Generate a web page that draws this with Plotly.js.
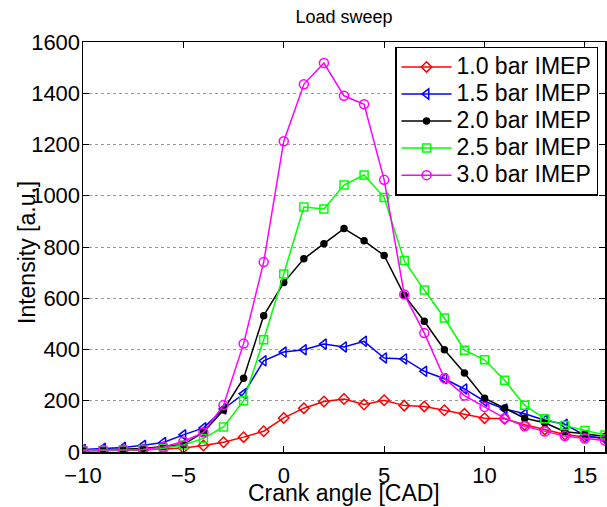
<!DOCTYPE html>
<html>
<head>
<meta charset="utf-8">
<script src="https://cdn.plot.ly/plotly-3.0.1.min.js"></script>
<style>html,body{margin:0;padding:0;background:#fff;}#chart{width:607px;height:507px;}</style>
</head>
<body>
<div id="chart"></div>
<script>
const crankAngle = [-10,-9,-8,-7,-6,-5,-4,-3,-2,-1,0,1,2,3,4,5,6,7,8,9,10,11,12,13,14,15,16];
const seriesNames = ["1.0 bar IMEP","1.5 bar IMEP","2.0 bar IMEP","2.5 bar IMEP","3.0 bar IMEP"];
const imep10 = [4,5,6,8,12,16,25,38,58,81,133,171,197,207,185,202,181,178,163,149,132,130,106,88,68,59,54];
const imep15 = [10,14,18,26,37,67,94,168,227,356,390,399,421,410,432,367,363,315,286,246,198,168,149,124,108,65,52];
const imep20 = [6,8,10,14,21,29,77,164,288,532,661,754,813,872,824,767,612,510,399,308,210,172,132,114,79,71,60];
const imep25 = [5,6,8,10,15,27,53,98,200,438,695,956,948,1042,1081,993,747,632,523,397,360,280,182,130,103,84,66];
const imep30 = [8,8,9,10,20,41,76,183,423,741,1213,1435,1518,1390,1357,1062,615,464,288,220,176,132,100,80,62,53,45];
const xTitle = "Crank angle [CAD]";
const yTitle = "Intensity [a.u.]";

const colors = ["#ff0000","#0000ff","#000000","#00ff00","#ff00ff"];
const symbols = ["diamond-open","triangle-left-open","circle","square-open","circle-open"];
const sizes = [8,9,6,8,9];
const allSeries = [imep10, imep15, imep20, imep25, imep30];

const traces = allSeries.map((ys, i) => ({
  x: crankAngle, y: ys, type: "scatter", mode: "lines+markers",
  name: '<span style="font-size:23px">' + seriesNames[i] + '</span>',
  line: {color: colors[i], width: 1.5},
  marker: {symbol: symbols[i], size: sizes[i], color: colors[i], line: {color: colors[i], width: 1.5}}
}));

const FONT = "Liberation Sans, Arial, Helvetica, sans-serif";
const axisCommon = {
  showline: true, linecolor: "#000", linewidth: 1.5, mirror: "ticks",
  ticks: "inside", ticklen: 6, tickcolor: "#000", tickwidth: 1,
  zeroline: false,
  tickfont: {family: FONT, size: 22, color: "#000"}
};

const layout = {
  width: 607, height: 507,
  margin: {l: 83, r: 2, t: 42, b: 55},
  paper_bgcolor: "#fff", plot_bgcolor: "#fff",
  font: {family: FONT, color: "#000"},
  title: {text: "Load sweep", font: {size: 18, color: "#000"}, x: 0.5667, xanchor: "center", y: 0.968, yanchor: "middle"},
  xaxis: Object.assign({}, axisCommon, {
    range: [-10, 16], tickvals: [-10,-5,0,5,10,15], showgrid: false, ticklabelstandoff: 3
  }),
  yaxis: Object.assign({}, axisCommon, {
    range: [0, 1600], tickvals: [0,200,400,600,800,1000,1200,1400,1600],
    showgrid: true, gridcolor: "#999", griddash: "dot", gridwidth: 1, ticklabelstandoff: -3
  }),
  annotations: [
    {text: xTitle, xref: "paper", yref: "paper", x: 0.5, y: -0.1, xanchor: "center", yanchor: "middle",
     showarrow: false, font: {family: FONT, size: 23, color: "#000"}},
    {text: yTitle, xref: "paper", yref: "paper", x: -0.1073, y: 0.4878, xanchor: "center", yanchor: "middle",
     textangle: -90, showarrow: false, font: {family: FONT, size: 23, color: "#000"}}
  ],
  legend: {
    x: 0.9866, xanchor: "right", y: 0.988, yanchor: "top",
    bgcolor: "#fff", bordercolor: "#000", borderwidth: 1.5, itemwidth: 50,
    font: {family: FONT, size: 18.5, color: "#000"}, tracegroupgap: 0
  },
  showlegend: true
};

Plotly.newPlot("chart", traces, layout, {staticPlot: true});
</script>
</body>
</html>
